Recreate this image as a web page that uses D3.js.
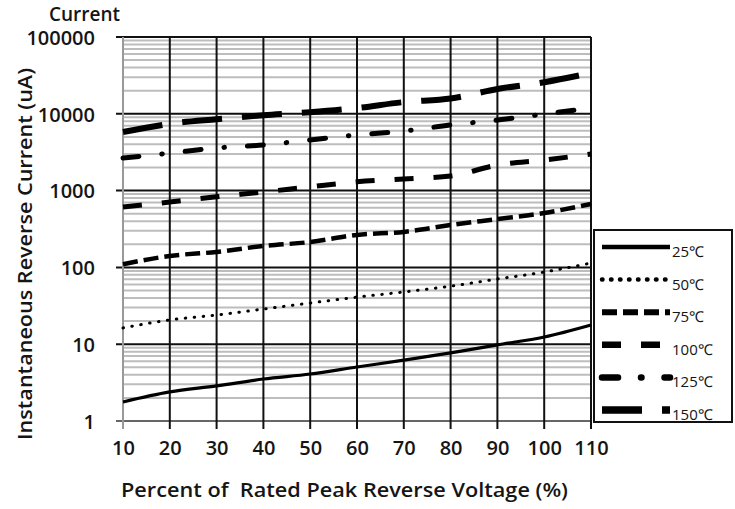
<!DOCTYPE html>
<html>
  <head>
    <meta charset="UTF-8" />
    <style>
      body { margin: 0; background: #fff; }
      svg { display: block; }
      text { font-family: 'Open Sans', sans-serif; fill: #151515; }
    </style>
  </head>
  <body>
    <svg></svg>
    <script src="https://d3js.org/d3.v7.min.js"></script>
    <script>
      let width = 735,
        height = 509

      // data
      let voltage = [10, 20, 30, 40, 50, 60, 70, 80, 90, 100, 110]
      let temps = ['25℃', '50℃', '75℃', '100℃', '125℃', '150℃']
      let i25 = [1.77, 2.39, 2.86, 3.52, 4.09, 5.05, 6.2, 7.7, 9.8, 12.4, 17.8]
      let i50 = [16.3, 20.7, 24, 28.7, 34.4, 41, 47.9, 57, 70.6, 87, 114]
      let i75 = [110, 141, 159, 190, 214, 265, 290, 356, 426, 511, 670]
      let i100 = [611, 710, 830, 960, 1120, 1300, 1420, 1550, 2150, 2500, 2990]
      let i125 = [2650, 3080, 3590, 3930, 4560, 5300, 5970, 7150, 8300, 9900, 11900]
      let i150 = [5800, 7400, 8500, 9600, 10500, 11900, 14200, 15800, 21000, 25800, 34000]
      let yTicks = [1, 10, 100, 1000, 10000, 100000]

      let series = [i25, i50, i75, i100, i125, i150]
      let dashes = ['none', '0.5,8.5', '15,6', '19,20', '16,23,0.5,23', '40,20']
      let caps = ['butt', 'round', 'butt', 'butt', 'round', 'butt']
      let widths = [3.2, 3, 4.5, 5, 5, 6]

      let pLeft = 123,
        pRight = 591,
        pTop = 37,
        pBottom = 421

      let svg = d3.select('svg').attr('width', width).attr('height', height)

      let x = d3.scaleLinear().domain([10, 110]).range([pLeft, pRight])
      let y = d3.scaleLog().domain([1, 100000]).range([pBottom, pTop])

      // minor gridlines
      let minor = y.ticks().filter((d) => yTicks.indexOf(d) < 0)
      svg
        .append('g')
        .selectAll('line')
        .data(minor)
        .enter()
        .append('line')
        .attr('x1', pLeft)
        .attr('x2', pRight)
        .attr('y1', (d) => y(d))
        .attr('y2', (d) => y(d))
        .attr('stroke', '#bdbdbd')
        .attr('stroke-width', 2)

      // major horizontal lines
      svg
        .append('g')
        .selectAll('line')
        .data(yTicks)
        .enter()
        .append('line')
        .attr('x1', pLeft - 7)
        .attr('x2', pRight)
        .attr('y1', (d) => y(d))
        .attr('y2', (d) => y(d))
        .attr('stroke', (d) => (d == 1 ? '#666' : '#111'))
        .attr('stroke-width', 2)

      // vertical lines
      svg
        .append('g')
        .selectAll('line')
        .data(voltage)
        .enter()
        .append('line')
        .attr('x1', (d) => x(d))
        .attr('x2', (d) => x(d))
        .attr('y1', pTop)
        .attr('y2', pBottom + 8)
        .attr('stroke', (d) => (d == 10 ? '#999' : '#111'))
        .attr('stroke-width', 2)

      // axis labels
      let yAxis = svg
        .append('g')
        .attr('transform', 'translate(' + (pLeft - 28) + ',0)')
        .call(d3.axisLeft(y).tickValues(yTicks).tickFormat(d3.format('d')).tickSize(0))
      yAxis.select('.domain').remove()
      yAxis
        .selectAll('text')
        .attr('x', 0)
        .attr('dy', '0.36em')
        .style('font-size', '20px')
        .style('font-weight', 600)
        .style('font-family', "'Open Sans', sans-serif")
        .attr('fill', '#151515')

      let xAxis = svg
        .append('g')
        .attr('transform', 'translate(0,' + pBottom + ')')
        .call(d3.axisBottom(x).tickValues(voltage).tickSize(0))
      xAxis.select('.domain').remove()
      xAxis
        .selectAll('text')
        .attr('y', 27)
        .attr('dy', '0.35em')
        .style('font-size', '20px')
        .style('font-weight', 600)
        .style('font-family', "'Open Sans', sans-serif")
        .attr('fill', '#151515')

      // curves
      let line = d3
        .line()
        .x((d, i) => x(voltage[i]))
        .y((d) => y(d))
        .curve(d3.curveMonotoneX)

      svg
        .append('g')
        .selectAll('path')
        .data(series)
        .enter()
        .append('path')
        .attr('d', (d) => line(d))
        .attr('fill', 'none')
        .attr('stroke', '#000')
        .attr('stroke-width', (d, i) => widths[i])
        .attr('stroke-dasharray', (d, i) => dashes[i])
        .attr('stroke-linecap', (d, i) => caps[i])

      // titles
      svg
        .append('text')
        .attr('x', 49)
        .attr('y', 21)
        .style('font-size', '19px')
        .style('font-weight', 600)
        .text('Current')

      svg
        .append('text')
        .attr('transform', 'translate(32,254) rotate(-90)')
        .attr('text-anchor', 'middle')
        .attr('textLength', 372)
        .attr('lengthAdjust', 'spacingAndGlyphs')
        .style('font-size', '20px')
        .style('font-weight', 600)
        .text('Instantaneous Reverse Current (uA)')

      svg
        .append('text')
        .attr('x', 121)
        .attr('y', 497)
        .attr('textLength', 447)
        .attr('lengthAdjust', 'spacingAndGlyphs')
        .style('font-size', '20px')
        .style('font-weight', 600)
        .style('white-space', 'pre')
        .text('Percent of  Rated Peak Reverse Voltage (%)')

      // legend
      let legend = svg.append('g').attr('transform', 'translate(594,230)')
      legend
        .append('rect')
        .attr('width', 138)
        .attr('height', 192)
        .attr('fill', '#fff')
        .attr('stroke', '#111')
        .attr('stroke-width', 2)

      let item = legend
        .selectAll('.item')
        .data(temps)
        .enter()
        .append('g')
        .attr('class', 'item')
        .attr('transform', (d, i) => 'translate(0,' + (17 + i * 32.6) + ')')

      item
        .append('line')
        .attr('x1', 8)
        .attr('x2', 76)
        .attr('stroke', '#000')
        .attr('stroke-width', (d, i) => widths[i] + 1.5)
        .attr('stroke-dasharray', (d, i) => dashes[i])
        .attr('stroke-linecap', (d, i) => caps[i])

      item
        .append('text')
        .attr('x', 78)
        .attr('y', 10)
        .style('font-size', '15px')
        .attr('fill', '#1b2a4a')
        .text((d) => d)
    </script>
  </body>
</html>
